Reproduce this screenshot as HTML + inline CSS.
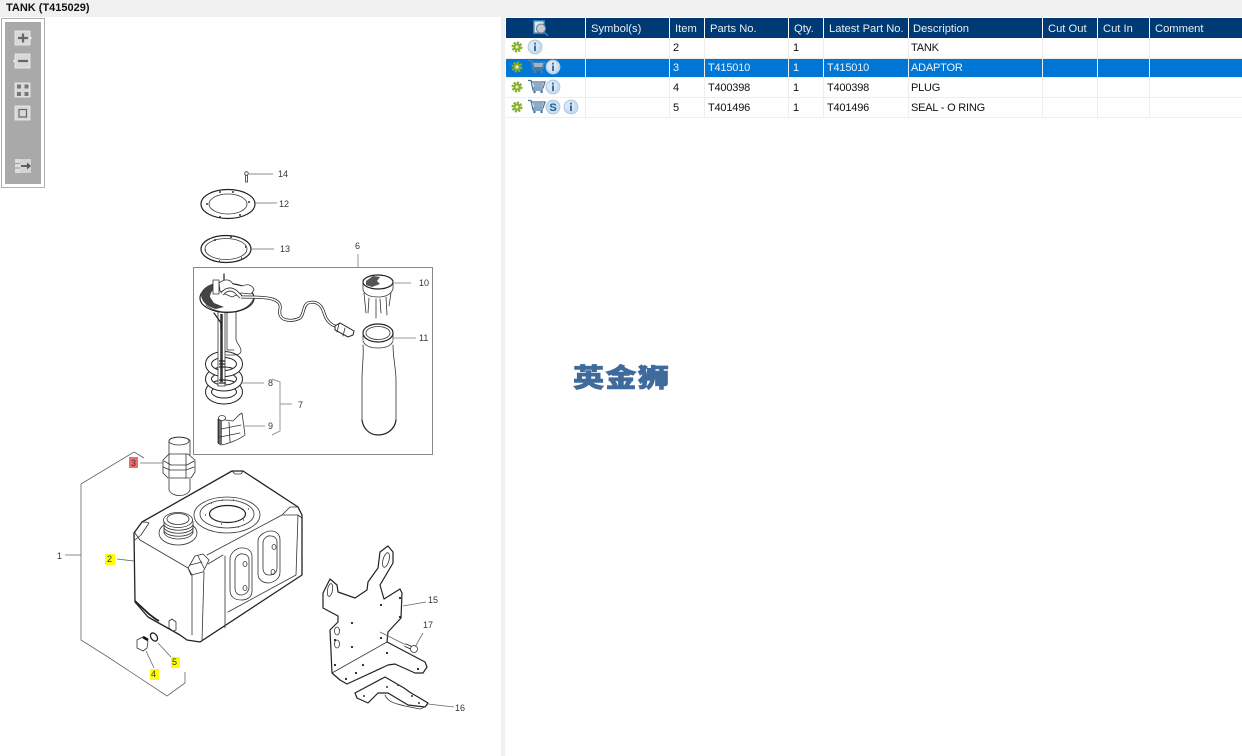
<!DOCTYPE html>
<html><head><meta charset="utf-8"><style>
html,body{margin:0;padding:0;background:#fff;width:1242px;height:756px;overflow:hidden}
svg{display:block}
.t{font-family:"Liberation Sans",sans-serif}
.n{font-family:"Liberation Sans",sans-serif;font-size:9px;fill:#333}
.h{font-family:"Liberation Sans",sans-serif;font-size:11.2px;fill:#e8eef6}
.c{font-family:"Liberation Sans",sans-serif;font-size:11px;fill:#111;letter-spacing:-.2px}
.w{fill:#e8f1fb}
.l{fill:none;stroke:#666;stroke-width:.8}
.d{fill:none;stroke:#333;stroke-width:.8;stroke-linejoin:round;stroke-linecap:round}
.b{fill:none;stroke:#222;stroke-width:1.2;stroke-linejoin:round;stroke-linecap:round}
.f{fill:#fff;stroke:#333;stroke-width:.8;stroke-linejoin:round}
.g{fill:none;stroke:#999;stroke-width:1}
</style></head><body>
<svg width="1242" height="756" viewBox="0 0 1242 756" xmlns="http://www.w3.org/2000/svg">
<defs>
<g id="gear"><circle r="4" fill="none" stroke="#86ad2b" stroke-width="3" stroke-dasharray="2 1.1"/><circle r="3.600" fill="#86ad2b"/><circle r="1.600" fill="#e4eec6"/></g>
<g id="info"><circle r="7" fill="#c9dcee" stroke="#a9c4dc" stroke-width=".8"/><circle r="5" cx="-1" cy="-1" fill="#dbe8f4"/><rect x="-1" y="-1.500" width="2" height="5.500" fill="#3b6ea5"/><rect x="-1" y="-4.300" width="2" height="1.800" fill="#3b6ea5"/></g>
<g id="cart"><path d="M0 0h3l2 9.500h10M3.500 1.500H17l-2 6H5" fill="none" stroke="#44709f" stroke-width="1.200"/><path d="M5 2.500h10.500l-1.200 4H6z" fill="#8fabc8"/><circle cx="6.500" cy="11.500" r="1.200" fill="#44709f"/><circle cx="13.500" cy="11.500" r="1.200" fill="#44709f"/></g>
<g id="cart2"><path d="M0 0h3l2 9.500h10M3.500 1.500H17l-2 6H5" fill="none" stroke="#5e7f9f" stroke-width="1.200"/><path d="M5 2.500h10.500l-1.200 4H6z" fill="#a4b4c4"/><circle cx="6.500" cy="11.500" r="1.200" fill="#5e7f9f"/><circle cx="13.500" cy="11.500" r="1.200" fill="#5e7f9f"/></g>
<g id="tb"><rect x="-8" y="-7" width="15" height="14" fill="#d8d8d8" stroke="#eee" stroke-width=".8"/></g>
</defs>

<rect x="0" y="0" width="1242" height="17" fill="#f0f0f0"/>
<rect x="501" y="17" width="4" height="739" fill="#f0f0f0"/>
<text x="6" y="11" class="t" font-size="11" font-weight="bold" fill="#111">TANK (T415029)</text>

<rect x="1.500" y="18.500" width="43" height="169" fill="#fff" stroke="#b0b0b0"/>
<rect x="5" y="22" width="36" height="162" fill="#a9a9a9"/>
<use href="#tb" x="23" y="38"/><path d="M30 36l2 2-2 2z" fill="#eee"/><path d="M18 38h10M23 33.500v9" stroke="#666" stroke-width="2.200"/>
<use href="#tb" x="23" y="61"/><path d="M15 59l-2 2 2 2z" fill="#eee"/><path d="M18 61h10" stroke="#666" stroke-width="2.200"/>
<use href="#tb" x="23" y="90"/><path d="M17 84.500h4v4h-4zM24.500 84.500h4v4h-4zM17 92h4v4h-4zM24.500 92h4v4h-4z" fill="#777"/>
<use href="#tb" x="23" y="113"/><rect x="19" y="109.500" width="7.500" height="7.500" fill="none" stroke="#666" stroke-width="1.200"/>
<rect x="15" y="159" width="5" height="14" fill="#ddd"/><path d="M15 163.500h5M15 168h5" stroke="#999"/><rect x="20" y="159" width="11" height="14" fill="#d4d4d4"/><path d="M21 166h8" stroke="#555" stroke-width="1.800"/><path d="M27 162.500l4 3.500-4 3.500z" fill="#555"/>

<rect x="506" y="18" width="736" height="20" fill="#003a75"/>
<rect x="506" y="58" width="736" height="19" fill="#0077d7"/>
<path d="M506 58.500H1242M506 77.500H1242M506 97.500H1242M506 117.500H1242" stroke="#eeeeee"/>
<path d="M585.500 18V38M669.500 18V38M704.500 18V38M788.500 18V38M823.500 18V38M908.500 18V38M1042.500 18V38M1097.500 18V38M1149.500 18V38" stroke="#fff"/>
<path d="M585.500 38V117M669.500 38V117M704.500 38V117M788.500 38V117M823.500 38V117M908.500 38V117M1042.500 38V117M1097.500 38V117M1149.500 38V117" stroke="#eeeeee"/>
<rect x="533" y="20" width="12" height="14" fill="#2f7fb0"/><rect x="534.500" y="21.500" width="9" height="11" fill="#d7e6f0"/><circle cx="541" cy="28.500" r="4.500" fill="#c6ccd2" stroke="#6b7f91"/><path d="M544 32l4 4" stroke="#3f80ad" stroke-width="1.500"/>
<text x="591" y="32" class="h">Symbol(s)</text><text x="675" y="32" class="h">Item</text><text x="710" y="32" class="h">Parts No.</text><text x="794" y="32" class="h">Qty.</text><text x="829" y="32" class="h">Latest Part No.</text><text x="913" y="32" class="h">Description</text><text x="1048" y="32" class="h">Cut Out</text><text x="1103" y="32" class="h">Cut In</text><text x="1155" y="32" class="h">Comment</text>

<use href="#gear" x="517" y="47"/><use href="#info" x="535" y="47"/>
<use href="#gear" x="517" y="67"/><use href="#cart2" x="528" y="60.500"/><use href="#info" x="553" y="67"/>
<use href="#gear" x="517" y="87"/><use href="#cart" x="528" y="80.500"/><use href="#info" x="553" y="87"/>
<use href="#gear" x="517" y="107"/><use href="#cart" x="528" y="100.500"/><circle cx="553" cy="107" r="7" fill="#c9dcee" stroke="#a9c4dc" stroke-width=".8"/><text x="553" y="111" text-anchor="middle" class="t" font-size="11" font-weight="bold" fill="#1d6296">S</text><use href="#info" x="571" y="107"/>

<text x="673" y="51" class="c">2</text><text x="793" y="51" class="c">1</text><text x="911" y="51" class="c">TANK</text>
<text x="673" y="71" class="c w">3</text><text x="708" y="71" class="c w">T415010</text><text x="793" y="71" class="c w">1</text><text x="827" y="71" class="c w">T415010</text><text x="911" y="71" class="c w">ADAPTOR</text>
<text x="673" y="91" class="c">4</text><text x="708" y="91" class="c">T400398</text><text x="793" y="91" class="c">1</text><text x="827" y="91" class="c">T400398</text><text x="911" y="91" class="c">PLUG</text>
<text x="673" y="111" class="c">5</text><text x="708" y="111" class="c">T401496</text><text x="793" y="111" class="c">1</text><text x="827" y="111" class="c">T401496</text><text x="911" y="111" class="c">SEAL - O RING</text>

<text transform="translate(573 387) scale(1.200 1)" font-family="'Noto Sans CJK SC',sans-serif" font-weight="900" font-size="26" fill="#3f6a9c" stroke="#3f6a9c" stroke-width=".6" letter-spacing="1">英金狮</text>

<rect x="193.500" y="267.500" width="239" height="187" fill="none" stroke="#888"/>
<path d="M358 267V254" class="g"/>

<!-- 14 -->
<circle cx="246.500" cy="173.500" r="1.800" class="f"/><path d="M245.500 175v7h2v-7" class="d"/><path d="M249 174h24" class="l"/>
<!-- 12 -->
<ellipse cx="228" cy="204" rx="27" ry="14.500" class="b"/><ellipse cx="228" cy="204" rx="19" ry="10" class="d"/>
<path d="M207 204h0M249 202h0M233 192h0M220 192h0M240 215h0M220 217h0" stroke="#333" stroke-width="2" stroke-linecap="round"/>
<path d="M255 203h22" class="l"/>
<!-- 13 -->
<ellipse cx="226" cy="249" rx="25" ry="13.500" class="b"/><ellipse cx="226" cy="249" rx="21" ry="10.500" class="d"/>
<path d="M214 240h2M230 237h2M245 247h1M241 258h1M219 261h1M205 250h1" stroke="#555" stroke-width="2"/>
<path d="M251 249h23" class="l"/>

<!-- spring -->
<g fill="none">
<ellipse cx="224" cy="392" rx="15.500" ry="9" stroke="#222" stroke-width="7"/><ellipse cx="224" cy="392" rx="15.500" ry="9" stroke="#fff" stroke-width="5"/>
<ellipse cx="224" cy="379" rx="15.500" ry="9" stroke="#222" stroke-width="7"/><ellipse cx="224" cy="379" rx="15.500" ry="9" stroke="#fff" stroke-width="5"/>
<ellipse cx="224" cy="364" rx="15.500" ry="9.500" stroke="#222" stroke-width="7"/><ellipse cx="224" cy="364" rx="15.500" ry="9.500" stroke="#fff" stroke-width="5"/>
</g>
<!-- tube -->
<path d="M218 312v74h7v-74z" fill="#fff" stroke="#333" stroke-width=".8"/><path d="M221.500 314v68" stroke="#333" stroke-width="2.500"/>
<path d="M219 361h6M219 364h6M219 367h6M219 380h7M219 383h7" stroke="#222" stroke-width="1.200"/>
<path d="M227 312v38h7M236 312v27c0 4 5 7 5 12 0 3-4 4-7 4h-8" class="d"/><path d="M214 313l7 10v6" class="b"/>
<!-- flange -->
<ellipse cx="227" cy="298" rx="27" ry="14.500" fill="#fff" stroke="#222" stroke-width="1.200"/>
<path d="M201 294c2-8 12-11 20-12l-3 4c-5 3-8 7-8 11l4 6 10 4-8 2c-8-2-15-7-15-15z" fill="#444"/>
<path d="M206 305c6 5 13 7 21 7 14 0 23-5 27-14" class="d"/>
<path d="M224 274v10" class="b" stroke-width="2"/>
<path d="M213 280h6v14h-6zM219 283c8-6 12-2 14 1l9 2c7-3 11 0 12 4l-3 4-10-1-9 4-7-3-5-3z" class="f"/>
<path d="M222 294c4-5 9-6 14-2l5 5" fill="none" stroke="#222" stroke-width="4"/><path d="M222 294c4-5 9-6 14-2l5 5" fill="none" stroke="#fff" stroke-width="2.400"/>
<!-- cable -->
<path d="M241 297c8 0 25 0 31 2 7 2 9 6 8 10-1 5 0 10 7 11 5 1 9 0 13-2 4-3 3-13 8-15 6-2 11 0 14 5 3 6 3 11 8 15 3 3 5 3 8 4" fill="none" stroke="#222" stroke-width="3"/>
<path d="M241 297c8 0 25 0 31 2 7 2 9 6 8 10-1 5 0 10 7 11 5 1 9 0 13-2 4-3 3-13 8-15 6-2 11 0 14 5 3 6 3 11 8 15 3 3 5 3 8 4" fill="none" stroke="#fff" stroke-width="1.500"/>
<path d="M335 326l5-3 14 8-1 4-5 2-13-7z" fill="#fff" stroke="#222" stroke-width="1"/><path d="M339 324l-2 8M345 328l-2 8" class="d"/>
<!-- filter 9 -->
<path d="M219 419l15 2 6-6 3-2 3 22c-5 4-17 9-24 10l-3-2z" class="f" transform="translate(-1 0)"/>
<path d="M221 429l20-4M220 437l20-4M229 422l1 20" class="d"/><path d="M219 419v25M221 420v24" stroke="#222" stroke-width="1.300"/>
<ellipse cx="222" cy="418" rx="3.500" ry="2.500" class="f"/>
<!-- 7,8,9 leaders -->
<path d="M242 383h22M243 426h22" class="g"/>
<path d="M272 379l8 3v49l-8 4M280 404h12" class="g"/>
<!-- 10 -->
<ellipse cx="378" cy="282" rx="15" ry="7" fill="#fff" stroke="#222" stroke-width="1.200"/><path d="M363 282v8c2 5 8 7 15 7 8 0 13-3 15-8v-7" class="d"/>
<path d="M366 281l7-5 7 1-3 4 3 3-8 3-6-2z" fill="#555"/><path d="M364 293l2 20M369 298l-1 15M376 299v19M380 299l1 14M386 297l1 18M391 293l-2 13" class="d" stroke-width="1"/>
<path d="M393 283h18" class="g"/>
<!-- 11 -->
<ellipse cx="378" cy="333" rx="15" ry="9" class="b"/><ellipse cx="378" cy="333" rx="12" ry="6.500" class="d"/>
<path d="M363 333v7M393 333v7M363 341c2 5 8 7 15 7s13-2 15-7M363 345c1 13-1 20-1 35v40M393 345c0 13 3 24 3 35v40" class="d"/>
<path d="M362 420c1 8 7 15 16 15s17-6 18-15" class="b"/>
<path d="M394 338h22" class="g"/>

<!-- 3 adaptor -->
<path d="M169 441c0-5 20-5 21 0v14h-21z" class="f"/>
<ellipse cx="179" cy="441" rx="10" ry="4" class="d"/>
<path d="M163 460l6-6 19 0 7 6v12l-4 6-23 0-5-5z" class="f"/>
<path d="M169 454v24M186 454v24M163 467l7 3h16l8-3M164 461l7 4h16l7-4" class="d"/>
<path d="M169 479v11c4 8 18 7 21 0v-11" class="f"/>

<!-- tank -->
<path d="M232 471h11l55 36 4 8v60l-102 67-13-2-7-5-32-18-13-15-1-69 8-11z" fill="#fff" stroke="#222" stroke-width="1.300" stroke-linejoin="round"/>
<path d="M135 533l5 7 48 28 4 7M142 522c3 0 6 0 7 1l-8 12-6 5M232 471l3 3h6l2-3M282 515l8-8 8 0" class="d"/>
<path d="M188 568l7-12 8-2 6 6-6 12-12 3zM190 565l12-3M198 556l6 12" class="d"/>
<path d="M207 555l75-40h16l4 3M192 575v60M225 556v72M223 555l-15 9" class="d"/>
<path d="M204 572l-2 69M228 612l68-37 2-60" class="d"/>
<path d="M135 601l14 13c4 3 6 5 10 7" stroke="#222" stroke-width="1.800" fill="none"/>
<path d="M172 619l4 3v8l-3 1-4-3v-7z" class="f"/>
<!-- flange -->
<ellipse cx="227" cy="515" rx="33" ry="18" class="f" stroke-width="1"/><ellipse cx="227" cy="514" rx="27" ry="14" class="d"/>
<ellipse cx="227.500" cy="514" rx="18" ry="8.500" class="b"/>
<path d="M211 503h1M233 500h1M248 509h1M243 520h1M221 524h1M205 515h1M222 500h1M238 527h1" stroke="#555" stroke-width="1.600"/>
<!-- neck -->
<ellipse cx="178" cy="533" rx="19" ry="12" class="f"/>
<path d="M164 521v12c4 8 25 8 29 0v-12" fill="#fff" stroke="#333" stroke-width=".8"/>
<ellipse cx="178" cy="520" rx="14.500" ry="7.500" class="f"/><ellipse cx="178" cy="519" rx="11" ry="5.500" class="d"/>
<path d="M164 525c4 7 25 7 29 0M164 528c4 7 25 7 29 0M164 531c4 7 25 7 29 0" class="d"/>
<!-- pads -->
<path d="M230 559c0-6 7-12 13-11 5 0 9 3 9 9v34c0 7-6 9-11 9-6 0-11-3-11-10z" class="f"/>
<path d="M235 561c0-4 4-8 8-7 3 0 6 2 6 6v27c0 5-4 8-8 8s-6-3-6-7z" class="d"/>
<ellipse cx="245" cy="564" rx="2" ry="2.500" class="d"/><ellipse cx="245" cy="588" rx="2" ry="2.500" class="d"/>
<path d="M258 541c0-6 8-10 13-10 6 0 9 4 9 9v32c0 7-6 10-11 11-6 0-11-3-11-9z" class="f"/>
<path d="M263 543c0-4 4-8 8-7 3 0 6 2 6 6v26c0 5-4 7-8 7s-6-3-6-7z" class="d"/>
<ellipse cx="274" cy="547" rx="2" ry="2.500" class="d"/><ellipse cx="273" cy="572" rx="2" ry="2.500" class="d"/>

<!-- 4 plug, 5 seal -->
<path d="M137 640l6-3 5 4-1 7-4 3-6-3z" class="f"/><path d="M143 637l5 3" stroke="#111" stroke-width="2.500"/>
<ellipse cx="154" cy="637" rx="3" ry="4.500" transform="rotate(-35 154 637)" fill="none" stroke="#222" stroke-width="1.300"/>
<path d="M146 651l8 17M158 643l13 14" class="l"/>

<!-- 1 bracket -->
<path d="M144 458l-10-6-53 32v156l27 17 59 39 18-13v-11M65 555h16" class="l"/>
<text x="57" y="559" class="n">1</text>
<rect x="105" y="554" width="10" height="11" fill="#ffff00"/><text x="107" y="562" class="n">2</text>
<path d="M117 559l17 2" class="l"/>
<rect x="129" y="457" width="9" height="11" fill="#f26a6a"/><text x="131" y="466" class="n">3</text>
<path d="M140 463h23" class="l"/>
<rect x="150" y="669" width="9" height="11" fill="#ffff00"/><text x="151" y="677" class="n">4</text>
<rect x="171" y="657" width="9" height="11" fill="#ffff00"/><text x="172" y="665" class="n">5</text>

<text x="278" y="177" class="n">14</text><text x="279" y="207" class="n">12</text><text x="280" y="252" class="n">13</text><text x="355" y="249" class="n">6</text><text x="419" y="286" class="n">10</text><text x="419" y="341" class="n">11</text><text x="268" y="386" class="n">8</text><text x="298" y="408" class="n">7</text><text x="268" y="429" class="n">9</text>

<!-- bracket 15 -->
<path d="M323 593l7-14 7 6 1 7 17 6 12-8 1-8 10-14 2-16 8-6 5 6v11l-13 22 4 14 16-10 2 4-1 25-13 14-1 10 38 20 2 5-4 6h-8l-20-9-7 1-41 19-7-4-8-7-2-43 8-8v-6l-15-8z" fill="#fff" stroke="#222" stroke-width="1.200" stroke-linejoin="round"/>
<path d="M387 642l-55 31" class="d"/>
<ellipse cx="330" cy="590" rx="2.500" ry="6.500" transform="rotate(10 330 590)" class="d"/><ellipse cx="386" cy="560" rx="3" ry="7.500" transform="rotate(15 386 560)" class="d"/>
<ellipse cx="337" cy="631" rx="2.500" ry="4" class="d"/><ellipse cx="337" cy="644" rx="2.500" ry="4" class="d"/>
<path d="M381 605h0M400 598h0M400 617h0M352 623h0M352 647h0M335 640h0M335 665h0M381 638h0M387 653h0M363 665h0M356 673h0M346 679h0M418 669h0" stroke="#222" stroke-width="2.200" stroke-linecap="round"/>
<path d="M403 606l23-4M380 632l26 13" class="l"/>
<!-- 17 -->
<path d="M405 645l9 4" stroke="#222" stroke-width="3.500"/><path d="M405 645l9 4" stroke="#fff" stroke-width="1.800"/><circle cx="414" cy="649" r="3.500" class="f"/>
<path d="M415 647l8-14" class="l"/>
<!-- 16 -->
<path d="M385 677l-30 16 2 5 11 5 10-10h10l20 12 17 2 3-4-10-6-7-4-7-5z" fill="#fff" stroke="#222" stroke-width="1.200" stroke-linejoin="round"/>
<path d="M385 695c3 8 13 9 20 11l15 3c3-1 6-2 7-4" class="d"/>
<path d="M387 687h0M398 685h0M412 696h0M419 703h0M364 696h0" stroke="#333" stroke-width="2" stroke-linecap="round"/>
<path d="M428 704l26 3" class="l"/>
<text x="428" y="603" class="n">15</text><text x="423" y="628" class="n">17</text><text x="455" y="711" class="n">16</text>
</svg>
</body></html>
